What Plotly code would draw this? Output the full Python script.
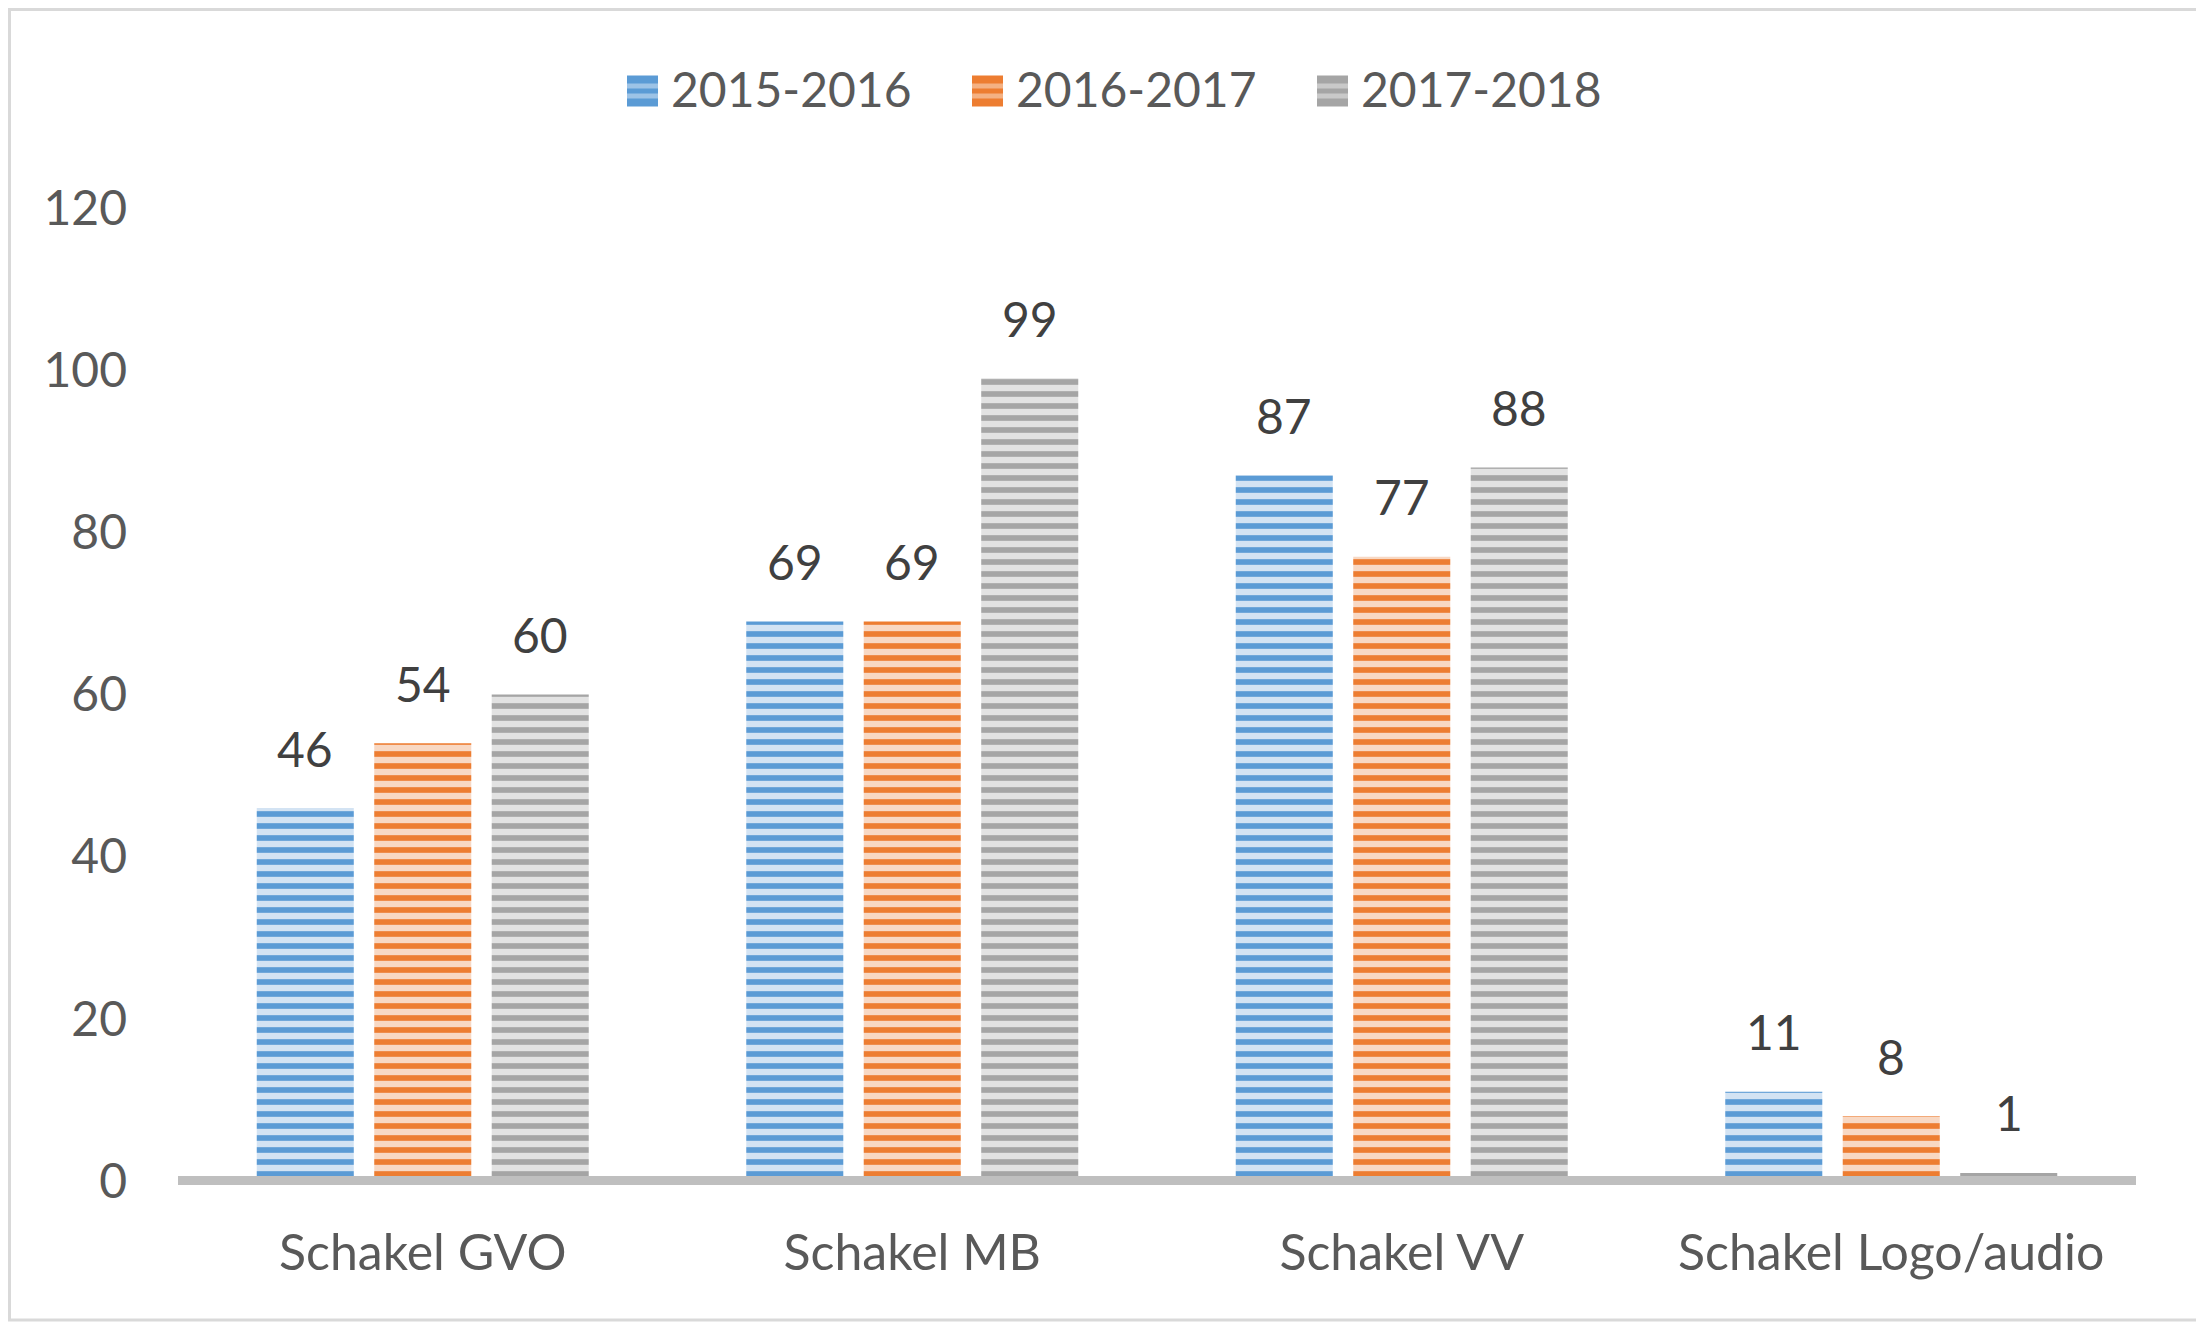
import plotly.graph_objects as go

categories = ["Schakel GVO", "Schakel MB", "Schakel VV", "Schakel Logo/audio"]
series_names = ["2015-2016", "2016-2017", "2017-2018"]
values_2015 = [46, 69, 87, 11]
values_2016 = [54, 69, 77, 8]
values_2017 = [60, 99, 88, 1]
y_ticks = [0, 20, 40, 60, 80, 100, 120]

series_values = [values_2015, values_2016, values_2017]
fg_colors = ["#5b9bd5", "#ed7d31", "#a5a5a5"]
bg_colors = ["#d3e3f3", "#f8d8c3", "#e2e2e2"]
legend_light = ["#9dc3e6", "#f4b183", "#c9c9c9"]

FONT = "Lato"
OFF = 8  # page body margin
W, H = 2204 - OFF, 1322 - OFF
L = 178 - OFF
R = W - (2136 - OFF)
T = 208 - OFF
B = H - (1181 - OFF)
plot_w = W - L - R
plot_h = H - T - B


def px_x(page_x):
    return (page_x - OFF - L) / plot_w


def px_y(page_y):
    return (H - B - (page_y - OFF)) / plot_h


fig = go.Figure()
for name, vals, fg, bg in zip(series_names, series_values, fg_colors, bg_colors):
    fig.add_trace(go.Bar(
        x=categories, y=vals, name=name, showlegend=False,
        marker=dict(color=bg, line=dict(width=0),
                    pattern=dict(shape="-", fgcolor=fg, bgcolor=bg,
                                 size=12, solidity=0.47, fillmode="replace")),
    ))

BARGAP = 0.28
slot = plot_w / len(categories) * (1 - BARGAP) / 3
annotations = []
for i, vals in enumerate(series_values):
    for cat, v in zip(categories, vals):
        annotations.append(dict(
            x=cat, y=v, xref="x", yref="y", text=str(v), showarrow=False,
            xshift=(i - 1) * slot, yshift=60, yanchor="middle",
            font=dict(family=FONT, size=48, color="#404040"),
        ))

shapes = [
    dict(type="line", xref="paper", yref="paper", x0=0, x1=1,
         y0=px_y(1180.5), y1=px_y(1180.5),
         line=dict(color="#bfbfbf", width=9), layer="above"),
    dict(type="rect", xref="paper", yref="paper",
         x0=px_x(OFF + 1.5), x1=px_x(2200),
         y0=px_y(1320), y1=px_y(OFF + 1.5),
         line=dict(color="#d9d9d9", width=3), layer="below"),
]

# legend (swatch + label per series)
LEG_X0, LEG_STEP, LEG_CY, SW = 627, 345, 91, 31
for i, (name, fg, lt) in enumerate(zip(series_names, fg_colors, legend_light)):
    x0 = LEG_X0 + i * LEG_STEP
    shapes.append(dict(type="rect", xref="paper", yref="paper",
                       x0=px_x(x0), x1=px_x(x0 + SW),
                       y0=px_y(LEG_CY + SW / 2), y1=px_y(LEG_CY - SW / 2),
                       fillcolor=fg, line=dict(width=0), layer="above"))
    for k in (0, 1):
        yt = LEG_CY - SW / 2 + 8 + k * 10
        shapes.append(dict(type="rect", xref="paper", yref="paper",
                           x0=px_x(x0), x1=px_x(x0 + SW),
                           y0=px_y(yt + 5), y1=px_y(yt),
                           fillcolor=lt, line=dict(width=0), layer="above"))
    annotations.append(dict(
        x=px_x(x0 + 42), y=px_y(LEG_CY - 3), xref="paper", yref="paper",
        text=name, showarrow=False, xanchor="left", yanchor="middle",
        font=dict(family=FONT, size=48, color="#595959"),
    ))

fig.update_layout(
    width=W, height=H,
    margin=dict(l=L, r=R, t=T, b=B),
    paper_bgcolor="white", plot_bgcolor="white",
    barmode="group", bargap=BARGAP, bargroupgap=0.174,
    font=dict(family=FONT, size=48, color="#595959"),
    showlegend=False,
    annotations=annotations,
    shapes=shapes,
    xaxis=dict(showline=False, showgrid=False, zeroline=False, ticks="",
               ticklabelstandoff=38,
               tickfont=dict(family=FONT, size=50, color="#595959")),
    yaxis=dict(range=[0, 120], tickvals=y_ticks, showline=False, showgrid=False,
               zeroline=False, ticks="", ticklabelstandoff=50,
               tickfont=dict(family=FONT, size=48, color="#595959")),
)

fig.write_html("out.html")
